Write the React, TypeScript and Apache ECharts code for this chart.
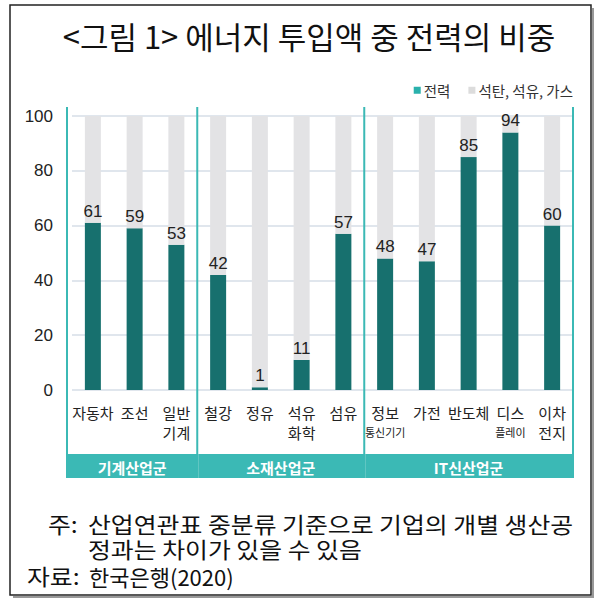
import React, { useEffect, useRef } from "react";
import * as echarts from "echarts";

const categories = ["자동차", "조선", "일반\n기계", "철강", "정유", "석유\n화학", "섬유", "정보\n통신기기", "가전", "반도체", "디스\n플레이", "이차\n전지"];
const smallSecondLine = ["정보\n통신기기", "디스\n플레이"];
const electricity = [61, 59, 53, 42, 1, 11, 57, 48, 47, 85, 94, 60];
const fossil = [39, 41, 47, 58, 99, 89, 43, 52, 53, 15, 6, 40];
const groupNames = ["기계산업군", "소재산업군", "IT신산업군"];
const groupSizes = [3, 4, 5];
const seriesNames = ["전력", "석탄, 석유, 가스"];
const titleText = "<그림 1> 에너지 투입액 중 전력의 비중";
const noteLabel = "주:";
const noteLines = ["산업연관표 중분류 기준으로 기업의 개별 생산공", "정과는 차이가 있을 수 있음"];
const sourceLabel = "자료:";
const sourceText = "한국은행(2020)";

const KR = '"Noto Sans CJK KR", "Noto Sans", sans-serif';
const NUM = '"Liberation Sans", Arial, sans-serif';
const DARK = "#17706e";
const LIGHT = "#e3e3e5";
const BAND = "#3bb9b5";

export default function App() {
  const ref = useRef<HTMLDivElement>(null);
  useEffect(() => {
    document.body.style.margin = "0";
    const chart = echarts.init(ref.current!, null, { renderer: "svg" });
    const option: any = {
      animation: false,
      backgroundColor: "#fff",
      title: {
        text: titleText,
        left: 304,
        top: 15,
        textAlign: "center",
        textStyle: { fontFamily: KR, fontSize: 31, fontWeight: "normal", color: "#111" },
      },
      legend: {
        right: 22,
        top: 78,
        itemWidth: 7,
        itemHeight: 7,
        itemGap: 18,
        icon: "rect",
        textStyle: { fontFamily: KR, fontSize: 14.5, color: "#333", padding: [0, 0, 0, -2] },
        data: [
          { name: seriesNames[0], itemStyle: { color: "#2ab1ac" } },
          { name: seriesNames[1], itemStyle: { color: "#dcdcdc" } },
        ],
      },
      grid: { left: 72, right: 27, top: 116, bottom: 213, containLabel: false },
      xAxis: {
        type: "category",
        data: categories,
        axisLine: { show: false },
        axisTick: { show: false },
        axisLabel: {
          interval: 0,
          margin: 12,
          color: "#222",
          fontFamily: KR,
          formatter: (v: string) => {
            const parts = v.split("\n");
            if (parts.length < 2) return `{m|${parts[0]}}`;
            const st = smallSecondLine.includes(v) ? "s" : "m";
            return `{m|${parts[0]}}\n{${st}|${parts[1]}}`;
          },
          rich: {
            m: { fontFamily: KR, fontSize: 15, lineHeight: 20, color: "#222" },
            s: { fontFamily: KR, fontSize: 11, lineHeight: 20, color: "#222" },
          },
        },
      },
      yAxis: {
        type: "value",
        min: 0,
        max: 100,
        interval: 20,
        axisLine: { show: false },
        axisTick: { show: false },
        axisLabel: { fontFamily: NUM, fontSize: 17, color: "#222", margin: 19 },
        splitLine: { lineStyle: { color: "#e0e6ed", width: 2 } },
      },
      series: [
        {
          name: seriesNames[0],
          type: "bar",
          stack: "total",
          barWidth: 16,
          data: electricity,
          itemStyle: { color: DARK },
          label: { show: true, position: "top", distance: 3, fontFamily: NUM, fontSize: 17, color: "#222" },
        },
        {
          name: seriesNames[1],
          type: "bar",
          stack: "total",
          barWidth: 16,
          data: fossil,
          itemStyle: { color: LIGHT },
        },
      ],
    };
    chart.setOption(option);

    const c0 = chart.convertToPixel({ xAxisIndex: 0 }, categories[0]) as number;
    const c1 = chart.convertToPixel({ xAxisIndex: 0 }, categories[1]) as number;
    const bw = c1 - c0;
    const axisLeft = c0 - bw / 2;
    const yTop = (chart.convertToPixel({ yAxisIndex: 0 }, 100) as number) - 9;
    const bandTop = 454;
    const bandH = 24;

    const graphics: any[] = [];
    let acc = 0;
    const bounds: number[] = [axisLeft - 5];
    groupSizes.forEach((n) => {
      acc += n;
      bounds.push(axisLeft + acc * bw);
    });
    bounds.forEach((x) => {
      graphics.push({
        type: "line",
        shape: { x1: x, y1: yTop, x2: x, y2: bandTop },
        style: { stroke: BAND, lineWidth: 2 },
        z: 10,
      });
    });
    groupNames.forEach((name, i) => {
      const xa = bounds[i] - 1;
      const xb = bounds[i + 1] + 1;
      graphics.push({
        type: "rect",
        shape: { x: xa + (i > 0 ? 2 : 0), y: bandTop, width: xb - xa - (i > 0 ? 2 : 0), height: bandH },
        style: { fill: BAND },
        z: 10,
      });
      graphics.push({
        type: "text",
        x: (xa + xb) / 2,
        y: bandTop + bandH / 2 + 1,
        style: {
          text: name,
          fill: "#fff",
          font: `bold 15px ${KR}`,
          textAlign: "center",
          textVerticalAlign: "middle",
        },
        z: 11,
      });
    });
    // notes
    const noteFont = `22px ${KR}`;
    const noteStyle = (text: string) => ({ text, fill: "#111", font: noteFont, lineHeight: 22, textVerticalAlign: "middle" });
    const sx = 1.13;
    graphics.push(
      { type: "text", x: 48, y: 524, scaleX: sx, style: noteStyle(noteLabel) },
      { type: "text", x: 88, y: 524, scaleX: sx, style: noteStyle(noteLines[0]) },
      { type: "text", x: 88, y: 549, scaleX: sx, style: noteStyle(noteLines[1]) },
      { type: "text", x: 27, y: 576, scaleX: sx, style: noteStyle(sourceLabel) },
      { type: "text", x: 89, y: 576, scaleX: 1.0, style: noteStyle(sourceText) },
    );
    // frame
    graphics.push(
      { type: "polyline", shape: { points: [[593, 8], [593, 597], [13, 597]] }, style: { stroke: "#999", lineWidth: 2, fill: "none" }, z: 1 },
      { type: "rect", shape: { x: 10, y: 5, width: 581, height: 590 }, style: { stroke: "#222", lineWidth: 1.5, fill: "none" }, z: 2 },
    );
    chart.setOption({ graphic: graphics });
    return () => chart.dispose();
  }, []);
  return <div ref={ref} style={{ position: "fixed", left: 0, top: 0, width: 600, height: 603 }} />;
}
